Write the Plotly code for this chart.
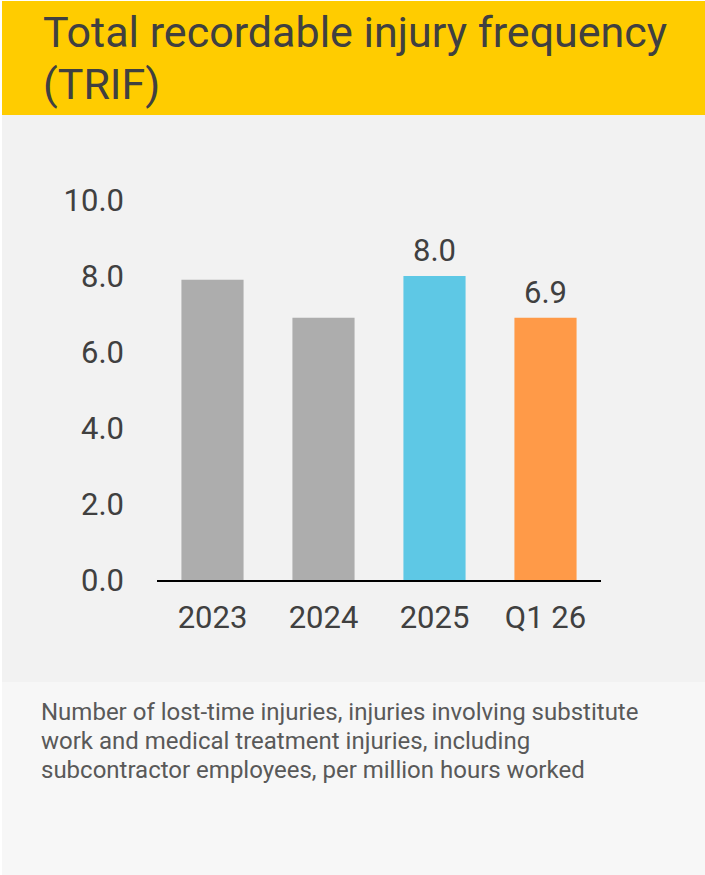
import plotly.graph_objects as go

categories = ["2023", "2024", "2025", "Q1 26"]
values = [7.9, 6.9, 8.0, 6.9]
show_label = [False, False, True, True]
bar_colors = ["#adadad", "#adadad", "#5ec8e5", "#ff9a48"]
y_ticks = [0, 2, 4, 6, 8, 10]

title_lines = ["Total recordable injury frequency", "(TRIF)"]
note_lines = ["Number of lost-time injuries, injuries involving substitute",
              "work and medical treatment injuries, including",
              "subcontractor employees, per million hours worked"]

W, H = 705, 875
FONT = "Roboto"
TXT = "#404040"


def px_x(p):
    return p / W


def px_y(p):
    return 1 - p / H


fig = go.Figure()
fig.add_trace(go.Bar(
    x=categories, y=values,
    marker=dict(color=bar_colors, line=dict(width=0)),
    hoverinfo="skip",
))

shapes = [
    dict(type="rect", xref="paper", yref="paper", x0=px_x(2), x1=1, y0=px_y(1), y1=px_y(115),
         fillcolor="#ffcc00", line=dict(width=0), layer="below"),
    dict(type="rect", xref="paper", yref="paper", x0=px_x(2), x1=1, y0=px_y(115), y1=px_y(682),
         fillcolor="#f2f2f2", line=dict(width=0), layer="below"),
    dict(type="rect", xref="paper", yref="paper", x0=px_x(2), x1=1, y0=px_y(682), y1=0,
         fillcolor="#f7f7f7", line=dict(width=0), layer="below"),
]

annotations = []
for line, ymid in zip(title_lines, [32, 84]):
    annotations.append(dict(text=line, xref="paper", yref="paper", x=px_x(41), y=px_y(ymid),
                            xanchor="left", yanchor="middle", align="left", showarrow=False,
                            font=dict(family=FONT, size=43, color=TXT)))
for line, ymid in zip(note_lines, [712, 741, 770]):
    annotations.append(dict(text=line, xref="paper", yref="paper", x=px_x(39), y=px_y(ymid),
                            xanchor="left", yanchor="middle", align="left", showarrow=False,
                            font=dict(family=FONT, size=24, color="#595959")))
# category axis: numeric x is the category index
for i, (v, s) in enumerate(zip(values, show_label)):
    if s:
        annotations.append(dict(text=f"{v:.1f}", x=i, y=v, xref="x", yref="y",
                                xanchor="center", yanchor="bottom", yshift=5, showarrow=False,
                                font=dict(family=FONT, size=31, color=TXT)))

fig.update_layout(
    width=W, height=H,
    margin=dict(l=0, r=0, t=0, b=0, autoexpand=False),
    paper_bgcolor="white",
    plot_bgcolor="rgba(0,0,0,0)",
    showlegend=False,
    bargap=0.44,
    shapes=shapes,
    annotations=annotations,
    xaxis=dict(type="category", categoryorder="array", categoryarray=categories,
               range=[-0.5, len(categories) - 0.5],
               domain=[px_x(157), px_x(601)], showline=True, linecolor="#000000",
               linewidth=2, ticks="", showgrid=False, zeroline=False, automargin=False,
               tickfont=dict(family=FONT, size=31, color=TXT), ticklabelstandoff=9),
    yaxis=dict(domain=[px_y(580), px_y(200)], range=[0, 10], tickvals=y_ticks,
               tickformat=".1f", showgrid=False, zeroline=False, showline=False,
               ticks="", automargin=False, tickfont=dict(family=FONT, size=31, color=TXT),
               ticklabelstandoff=32),
)

fig.write_html("out.html", config={"displayModeBar": False},
               post_script="document.body.style.margin='0';document.body.style.overflow='hidden';")
